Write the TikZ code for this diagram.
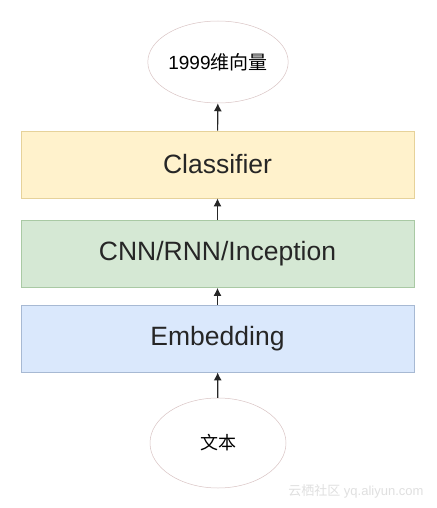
\documentclass[tikz,border=0pt]{standalone}
\usepackage{fontspec}
\setmainfont{Liberation Sans}
\newfontfamily\cjk{Noto Sans CJK SC}
\usetikzlibrary{shapes.geometric,arrows.meta}
\definecolor{yfill}{HTML}{FFF2CC}\definecolor{ydraw}{HTML}{E6D29A}
\definecolor{gfill}{HTML}{D5E8D4}\definecolor{gdraw}{HTML}{A9C9A4}
\definecolor{bfill}{HTML}{DAE8FC}\definecolor{bdraw}{HTML}{A7B9D3}
\definecolor{edraw}{HTML}{D9C4C4}
\tikzset{
  layer/.style={draw, line width=0.8pt, minimum width=393pt, minimum height=67pt, inner sep=0pt, font=\fontsize{26.5}{30}\selectfont, text=black!85},
  oval/.style={ellipse, draw=edraw, line width=0.5pt, minimum width=136pt, minimum height=82pt, inner sep=0pt},
  conn/.style={-{Latex[length=8pt,width=8pt]}, line width=1.1pt, black!85}
}
\begin{document}
\begin{tikzpicture}[x=1pt,y=-1pt]
\useasboundingbox[fill=white] (0,0) rectangle (436,508);
\node[oval, font=\fontsize{19}{22}\selectfont] (out) at (218,62) {1999{\cjk 维向量}};
\node[layer, fill=yfill, draw=ydraw] (cls) at (217.5,164.5) {Classifier};
\node[layer, fill=gfill, draw=gdraw] (cnn) at (217.5,254) {CNN/RNN/Inception};
\node[layer, fill=bfill, draw=bdraw] (emb) at (217.5,338.5) {Embedding};
\node[oval, minimum height=90pt, font=\cjk\fontsize{18}{22}\selectfont] (txt) at (218,443) {文本};
\node[text=black!12, font=\fontsize{13}{15}\selectfont, anchor=east] (wm) at (427,491) {{\cjk 云栖社区} yq.aliyun.com};
\draw[conn] (txt) -- (emb);
\draw[conn] (emb) -- (cnn);
\draw[conn] (cnn) -- (cls);
\draw[conn] (cls) -- (out);
\end{tikzpicture}
\end{document}
